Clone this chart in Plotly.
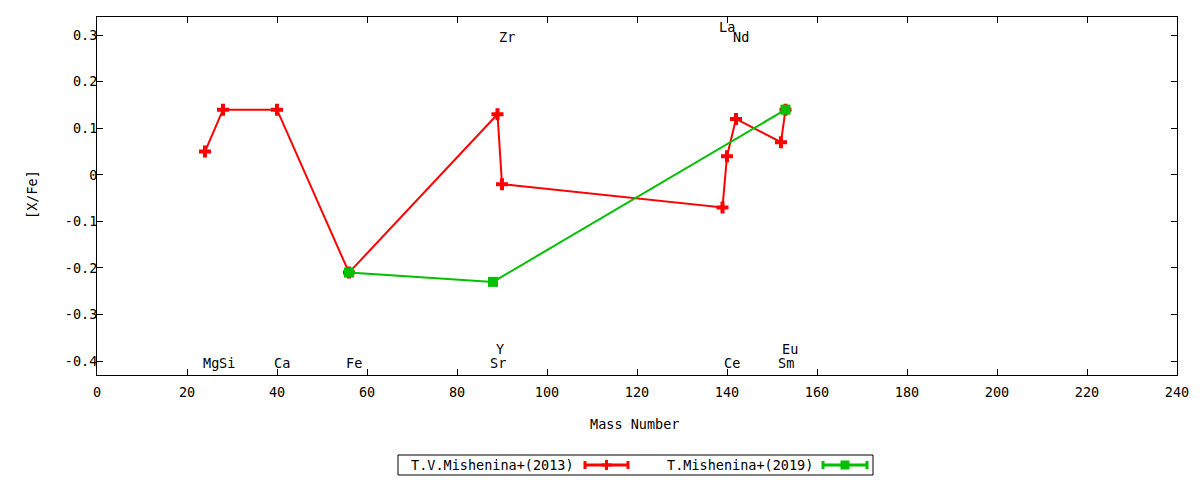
import plotly.graph_objects as go

# ---- data ----
red_name = "T.V.Mishenina+(2013)"
red_mass = [24, 28, 40, 56, 89, 90, 139, 140, 142, 152, 153]
red_val = [0.05, 0.14, 0.14, -0.21, 0.13, -0.02, -0.07, 0.04, 0.12, 0.07, 0.14]

green_name = "T.Mishenina+(2019)"
green_mass = [56, 88, 153]
green_val = [-0.21, -0.23, 0.14]

# element labels: (text, x, y)
elem_text = ["Mg", "Si", "Ca", "Fe", "Sr", "Y", "Ce", "Sm", "Eu", "La", "Nd", "Zr"]
elem_x = [25.3, 28.8, 41.0, 57.2, 89.0, 89.5, 141.0, 153.1, 154.0, 140.0, 143.0, 91.1]
elem_y = [-0.405, -0.405, -0.405, -0.405, -0.405, -0.375, -0.405, -0.405, -0.375, 0.318, 0.296, 0.296]

x_ticks = list(range(0, 241, 20))
y_ticks = [-0.4, -0.3, -0.2, -0.1, 0, 0.1, 0.2, 0.3]
y_tick_text = ["-0.4", "-0.3", "-0.2", "-0.1", "0", "0.1", "0.2", "0.3"]

RED = "#ff0000"
GREEN = "#00c000"
FONT = "DejaVu Sans Mono"
FS = 13.5

fig = go.Figure()
fig.add_trace(go.Scatter(
    x=red_mass, y=red_val, mode="lines+markers", name=red_name,
    line=dict(color=RED, width=2),
    marker=dict(symbol="cross", size=10, color=RED),
    showlegend=False,
))
fig.add_trace(go.Scatter(
    x=green_mass, y=green_val, mode="lines+markers", name=green_name,
    line=dict(color=GREEN, width=2),
    marker=dict(symbol="square", size=10, color=GREEN),
    showlegend=False,
))

for t, x, y in zip(elem_text, elem_x, elem_y):
    fig.add_annotation(x=x, y=y, text=t, showarrow=False, xref="x", yref="y",
                       font=dict(family=FONT, size=FS, color="black"),
                       xanchor="center", yanchor="middle")

# ---- pixel helpers for paper coords ----
W, H = 1200, 480
ml, mr, mt, mb = 97, 23, 17, 105
pw, ph = W - ml - mr, H - mt - mb

def px(xp):
    return (xp - ml) / pw

def py(yp):
    return (H - mb - yp) / ph

# axis titles
fig.add_annotation(xref="paper", yref="paper", x=px(634), y=py(424), text="Mass Number",
                   showarrow=False, xanchor="center", yanchor="middle",
                   font=dict(family=FONT, size=FS, color="black"))
fig.add_annotation(xref="paper", yref="paper", x=px(32), y=py(195), text="[X/Fe]",
                   showarrow=False, xanchor="center", yanchor="middle", textangle=-90,
                   font=dict(family=FONT, size=FS, color="black"))

# ---- custom legend (gnuplot style) ----
fig.add_shape(type="rect", xref="paper", yref="paper",
              x0=px(398), x1=px(873), y0=py(475), y1=py(455),
              line=dict(color="black", width=1), fillcolor="white", layer="below")

legend_items = [
    (red_name, RED, 576, 585, 628, "cross"),
    (green_name, GREEN, 815, 823, 867, "square"),
]
for name, col, text_right, l0, l1, sym in legend_items:
    fig.add_annotation(xref="paper", yref="paper", x=px(text_right), y=py(465),
                       text=name, showarrow=False, xanchor="right", yanchor="middle",
                       font=dict(family=FONT, size=FS, color="black"))
    fig.add_shape(type="line", xref="paper", yref="paper",
                  x0=px(l0), x1=px(l1), y0=py(465), y1=py(465),
                  line=dict(color=col, width=3))
    for xe in (l0, l1):
        fig.add_shape(type="line", xref="paper", yref="paper",
                      x0=px(xe), x1=px(xe), y0=py(461), y1=py(469),
                      line=dict(color=col, width=3))
    cx = (l0 + l1) / 2
    if sym == "cross":
        fig.add_shape(type="rect", xref="paper", yref="paper",
                      x0=px(cx - 1.5), x1=px(cx + 1.5), y0=py(470), y1=py(460),
                      line=dict(width=0), fillcolor=col)
        fig.add_shape(type="rect", xref="paper", yref="paper",
                      x0=px(cx - 5), x1=px(cx + 5), y0=py(466.5), y1=py(463.5),
                      line=dict(width=0), fillcolor=col)
    else:
        fig.add_shape(type="rect", xref="paper", yref="paper",
                      x0=px(cx - 4.5), x1=px(cx + 4.5), y0=py(469.5), y1=py(460.5),
                      line=dict(width=0), fillcolor=col)

fig.update_layout(
    width=W, height=H,
    margin=dict(l=ml, r=mr, t=mt, b=mb),
    paper_bgcolor="white", plot_bgcolor="white",
    font=dict(family=FONT, size=FS, color="black"),
    showlegend=False,
    xaxis=dict(
        range=[0, 240], tickvals=x_ticks, ticktext=[str(v) for v in x_ticks],
        ticks="inside", ticklen=6, tickcolor="black", showgrid=False, zeroline=False,
        showline=True, linecolor="black", linewidth=1, mirror="ticks",
        tickfont=dict(family=FONT, size=FS), ticklabelstandoff=5,
    ),
    yaxis=dict(
        range=[-0.43, 0.339], tickvals=y_ticks, ticktext=y_tick_text,
        ticks="inside", ticklen=6, tickcolor="black", showgrid=False, zeroline=False,
        showline=True, linecolor="black", linewidth=1, mirror="ticks",
        tickfont=dict(family=FONT, size=FS), ticklabelstandoff=-4,
    ),
)

fig.write_html("out.html", config={"displayModeBar": False},
               post_script="document.body.style.margin='0';document.body.style.overflow='hidden';")
